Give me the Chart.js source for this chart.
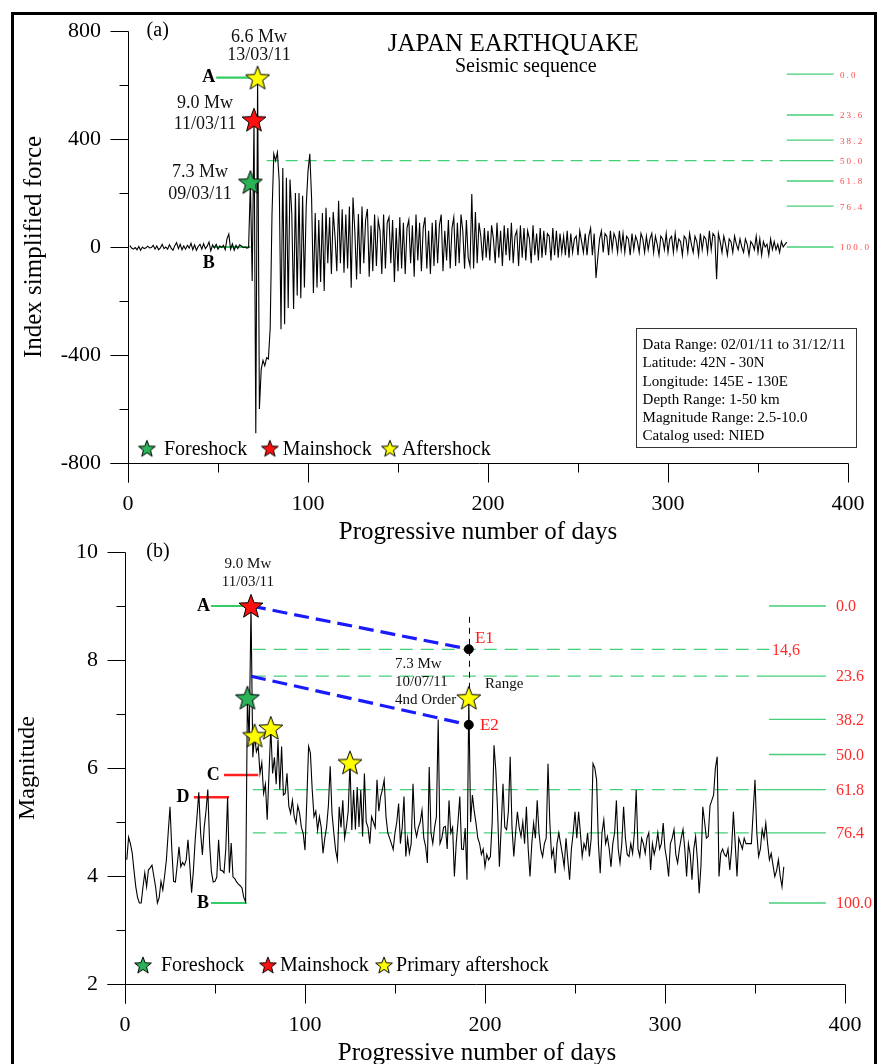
<!DOCTYPE html>
<html>
<head>
<meta charset="utf-8">
<script src="https://cdn.jsdelivr.net/npm/chart.js@4.4.1/dist/chart.umd.min.js"></script>
<style>
  body { margin: 0; background: #fff; }
  #page { position: relative; width: 880px; height: 1064px; overflow: hidden; background: #fff; }
  #frame { position: absolute; left: 11px; top: 12px; width: 860px; height: 1100px; border: 3px solid #000; }
  canvas { position: absolute; left: 0; }
  #forceChart { top: 0; }
  #magChart { top: 520px; }
</style>
</head>
<body>
<div id="page">
  <div id="frame"></div>
  <canvas id="forceChart" width="880" height="545"></canvas>
  <canvas id="magChart" width="880" height="544"></canvas>
</div>
<script>
// daily index of simplified force, 02/01/11 .. 31/12/11
const forceIndex = [
  5, -4, -8, -2, -10, 2, -12, 0, -6, -3,
  3, -3, -2, 6, -8, 4, -10, -3, 10, -6,
  0, -8, 8, -4, -12, 5, 16, -6, 10, -10,
  4, -8, 6, -4, 14, -10, 8, -12, 2, 10,
  -8, 12, -6, 3, 18, -14, 8, -4, 10, -8,
  4, -2, 6, -10, 30, 48, -8, 12, -12, 6,
  -6, 8, 4, -2, 0, -4, -2, 240, -126, 471,
  -690, 627, -600, -453, -420, -440, -410, -415, -300, 120,
  345, 320, 350, 245, -305, 293, -286, 256, -226, 250,
  122, -230, 200, -180, 200, -190, 190, -150, 150, 280,
  345, 180, -170, 126, -150, 100, -130, 126, -163, 145,
  -60, 110, -100, 130, 40, -90, 171, -60, 140, -95,
  120, -80, 150, -151, 183, 60, -120, 122, -100, 150,
  -60, 100, 141, -110, 80, -90, 120, -70, 100, 60,
  -100, 120, -80, 90, 110, -60, 100, -130, 70, -90,
  110, -80, 90, -100, 70, 100, -60, 80, -110, 120,
  -50, 90, -90, 70, 110, -80, 60, -100, 90, -70,
  100, -60, 80, 120, -90, 60, -50, 100, -80, 70,
  110, -70, 90, -60, 120, 60, -80, 100, -40, -70,
  196, -80, 130, -60, 90, 40, -50, 70, -40, 60,
  -50, 80, 30, -60, 90, -40, 60, -70, 80, -30,
  70, -50, 90, -60, 40, 60, -70, 80, -40, 70,
  -50, 60, 30, -60, 80, -30, 50, -50, 70, -40,
  60, -30, 50, 40, -50, 70, -30, 60, -40, 50,
  -20, 40, -30, 60, -40, 50, -20, 30, 40, -30,
  60, 20, -20, 50, -30, 40, 70, -30, 50, -115,
  -40, 30, 60, -20, 50, 40, -30, 60, -10, 50,
  30, -20, 60, -10, 50, -20, 40, 30, -30, 50,
  -10, 40, 20, -20, 50, 30, -20, 40, -10, 30,
  50, -20, 40, 10, -30, 40, 30, -10, 50, -20,
  30, 40, -20, 50, -10, 30, 20, -30, 40, 30,
  -20, 50, 10, -20, 40, 20, -30, 50, -10, 40,
  30, -20, 60, -10, 50, 40, -119, 50, 20, -20,
  40, 10, -30, 30, 20, -20, 40, 10, -10, 30,
  0, -20, 30, 10, -30, 20, 10, -10, 40, -20,
  30, -30, 20, 0, 10, -30, 30, -10, 20, -10,
  10, -20, 20, 0, 10, 18
];

// daily maximum magnitude (Mw)
const magnitude = [
  4.3, 4.72, 4.6, 4.43, 4.1, 3.8, 3.6, 3.5, 3.5, 3.8,
  4.06, 3.8, 4.11, 4.15, 4.2, 4.0, 3.8, 3.5, 3.6, 3.9,
  3.74, 4.0, 4.3, 4.8, 5.28, 4.5, 3.9, 3.89, 4.2, 4.54,
  4.17, 4.25, 4.2, 4.3, 4.67, 4.2, 3.69, 4.1, 4.67, 5.1,
  5.55, 4.8, 4.39, 4.9, 5.2, 5.6, 4.6, 4.08, 3.89, 3.9,
  3.98, 4.67, 4.11, 4.1, 4.06, 4.5, 5.46, 4.06, 4.61, 3.98,
  3.95, 3.89, 3.85, 3.82, 3.78, 3.6, 3.52, 7.3, 6.5, 9.0,
  6.2, 6.6, 6.3, 6.4, 5.9, 6.1, 5.53, 5.7, 5.04, 5.9,
  6.74, 5.9, 6.2, 5.7, 6.52, 5.6, 6.4, 5.5, 5.53, 5.9,
  5.3, 5.16, 5.4, 5.1, 4.98, 5.3, 5.16, 4.9, 4.79, 4.48,
  5.4, 6.4, 6.28, 5.6, 5.1, 5.2, 4.85, 5.1, 4.9, 4.42,
  4.7, 4.91, 5.3, 6.03, 5.16, 4.8, 4.48, 4.3, 5.28, 4.9,
  5.4, 4.7, 4.91, 5.2, 6.1, 4.85, 5.59, 4.86, 5.65, 4.91,
  5.59, 4.73, 5.9, 5.0, 4.9, 4.6, 5.1, 5.0, 4.9, 5.78,
  5.2, 5.47, 5.6, 5.78, 5.1, 4.8, 4.7, 4.6, 4.49, 4.8,
  5.0, 5.34, 4.6, 4.9, 5.47, 4.36, 4.7, 4.42, 4.6, 5.71,
  4.9, 4.73, 4.9, 5.0, 5.22, 4.7, 4.55, 4.24, 6.02, 4.8,
  4.6, 4.9, 5.1, 6.9, 4.6, 4.7, 4.9, 4.92, 4.5, 5.4,
  4.8, 4.9, 3.99, 4.6, 5.0, 5.47, 4.5, 4.49, 4.89, 3.93,
  7.3, 5.0, 5.5, 5.2, 4.98, 4.7, 4.6, 4.4, 4.5, 4.17,
  4.4, 4.3, 4.36, 5.0, 6.42, 5.96, 5.2, 4.17, 4.9, 5.71,
  4.9, 4.86, 5.2, 6.21, 4.9, 4.36, 4.8, 5.19, 4.9, 4.73,
  5.0, 4.6, 5.28, 4.5, 3.99, 4.6, 4.98, 4.7, 5.4, 4.8,
  4.49, 4.36, 4.6, 4.7, 6.08, 5.0, 4.36, 4.5, 4.05, 4.6,
  4.8, 4.6, 4.4, 4.17, 4.7, 4.3, 3.93, 4.5, 4.8, 5.19,
  4.7, 5.19, 4.8, 4.36, 4.6, 4.49, 4.8, 4.36, 4.7, 6.08,
  6.0, 5.78, 4.6, 4.05, 4.8, 5.04, 4.6, 4.73, 4.5, 4.17,
  4.6, 4.8, 5.4, 4.5, 4.24, 4.6, 5.28, 4.7, 4.4, 4.36,
  4.6, 4.42, 4.8, 5.59, 4.5, 4.36, 4.7, 4.6, 4.42, 4.7,
  4.8, 4.11, 4.6, 4.4, 4.55, 4.8, 4.5, 4.6, 4.98, 4.5,
  4.3, 3.99, 4.6, 4.7, 4.86, 4.4, 4.24, 4.5, 4.7, 4.86,
  4.5, 3.99, 4.6, 4.4, 3.93, 4.5, 4.73, 4.3, 3.68, 4.2,
  5.28, 5.0, 4.7, 4.73, 5.3, 5.4, 5.5, 6.0, 6.21, 3.99,
  4.42, 4.5, 4.4, 4.36, 4.5, 4.11, 4.5, 5.19, 4.6, 3.99,
  4.7, 4.6, 4.5, 4.7, 4.6, 4.6, 4.6, 4.6, 5.2, 5.78,
  4.8, 4.36, 4.5, 4.86, 4.7, 4.98, 4.6, 4.3, 4.42, 4.2,
  3.99, 4.1, 4.3, 4.0, 3.8, 4.17
];

const days = forceIndex.map((_, i) => i + 1);

// axis ticks
const dayTicks = [0, 100, 200, 300, 400];
const dayMinorTicks = [50, 150, 250, 350];
const forceTicks = [-800, -400, 0, 400, 800];
const forceMinorTicks = [-600, -200, 200, 600];
const magTicks = [2, 4, 6, 8, 10];
const magMinorTicks = [3, 5, 7, 9];

// events (day of year)
const foreshockDay = 68;      // 09/03/11, 7.3 Mw
const mainshockDay = 70;      // 11/03/11, 9.0 Mw
const aftershockDay = 72;     // 13/03/11, 6.6 Mw
const primaryAftershockDays = [72, 81, 125, 191];

// retracement levels (%)
const fibLevels = [0.0, 23.6, 38.2, 50.0, 61.8, 76.4, 100.0];
const forceLevelTop = 640, forceLevelBase = 0;
const magLevelTop = 9.0, magLevelBase = 3.5;
const magDashedLevels = [14.6, 23.6, 61.8, 76.4];
const levelC = 5.87, levelD = 5.46;

// 4th order range channel
const channelStartDay = 70, channelEndDay = 191;
const channelStart = [9.0, 7.7];
const channelEnd = [8.2, 6.8];

const infoLines = [
  'Data Range: 02/01/11 to 31/12/11',
  'Latitude: 42N - 30N',
  'Longitude: 145E - 130E',
  'Depth Range: 1-50 km',
  'Magnitude Range: 2.5-10.0',
  'Catalog used: NIED'
];

const SERIF = '"Liberation Serif", "Times New Roman", serif';
const GREEN = '#45cf78';
const STAR_GREEN = '#2bb457', STAR_RED = '#ff1010', STAR_YELLOW = '#ffff00';
Chart.defaults.font.family = SERIF;
Chart.defaults.color = '#000';

const starCache = {};
function starImage(fill, r) {
  const key = fill + r;
  if (starCache[key]) return starCache[key];
  const size = Math.ceil(2 * r + 4);
  const c = document.createElement('canvas');
  c.width = c.height = size;
  const g = c.getContext('2d');
  const cx = size / 2, cy = size / 2 + r * 0.08;
  g.beginPath();
  for (let i = 0; i < 10; i++) {
    const rr = i % 2 ? r * 0.42 : r;
    const a = -Math.PI / 2 + i * Math.PI / 5;
    g.lineTo(cx + rr * Math.cos(a), cy + rr * Math.sin(a));
  }
  g.closePath();
  g.fillStyle = fill;
  g.fill();
  g.lineWidth = 1;
  g.strokeStyle = '#000';
  g.stroke();
  return (starCache[key] = c);
}

function hline(ctx, x1, x2, y, color, width, dash) {
  ctx.save();
  ctx.beginPath();
  ctx.setLineDash(dash || []);
  ctx.strokeStyle = color;
  ctx.lineWidth = width;
  ctx.moveTo(x1, y);
  ctx.lineTo(x2, y);
  ctx.stroke();
  ctx.restore();
}

function text(ctx, str, x, y, font, color, align, spacing) {
  ctx.save();
  ctx.font = font;
  ctx.fillStyle = color || '#000';
  ctx.textAlign = align || 'left';
  ctx.textBaseline = 'middle';
  if (spacing) ctx.letterSpacing = spacing;
  ctx.fillText(str, x, y);
  ctx.restore();
}

// crossed axis lines at the lower-left corner, with major and minor ticks
function drawFrame(chart, yMajor, yMinor) {
  const { ctx, chartArea: a, scales: { x, y } } = chart;
  const px = v => Math.round(v) + 0.5;
  const left = px(a.left), bottom = px(a.bottom);
  ctx.save();
  ctx.strokeStyle = '#000';
  ctx.lineWidth = 1;
  ctx.beginPath();
  ctx.moveTo(left - 18, bottom); ctx.lineTo(px(a.right), bottom);
  ctx.moveTo(left, px(a.top)); ctx.lineTo(left, bottom + 19);
  yMajor.forEach(v => { const p = px(y.getPixelForValue(v)); ctx.moveTo(left - 18, p); ctx.lineTo(left, p); });
  yMinor.forEach(v => { const p = px(y.getPixelForValue(v)); ctx.moveTo(left - 9, p); ctx.lineTo(left, p); });
  dayTicks.forEach(v => { const p = px(x.getPixelForValue(v)); ctx.moveTo(p, bottom); ctx.lineTo(p, bottom + 19); });
  dayMinorTicks.forEach(v => { const p = px(x.getPixelForValue(v)); ctx.moveTo(p, bottom); ctx.lineTo(p, bottom + 9); });
  ctx.stroke();
  ctx.restore();
}

function legend(ctx, items, y) {
  items.forEach(it => {
    const img = starImage(it.color, 8.8);
    ctx.drawImage(img, it.x - img.width / 2, y - img.height / 2);
    text(ctx, it.label, it.x + it.gap, y + 1, '20px ' + SERIF);
  });
}

function starDataset(points, color, r) {
  return {
    type: 'scatter',
    data: points,
    pointStyle: starImage(color, r),
    pointRadius: 8,
    order: 0
  };
}

// fixed-size axes so the plot area sits exactly where the layout padding puts it
function axisScales(yMin, yMax, yStep, yWidth, xHeight) {
  return {
    x: {
      type: 'linear', min: 0, max: 400,
      afterFit: s => { s.height = xHeight; s.paddingLeft = 0; s.paddingRight = 0; },
      grid: { display: false, drawTicks: false },
      border: { display: false },
      ticks: { stepSize: 100, padding: 28, autoSkip: false, maxRotation: 0, font: { size: 22 } }
    },
    y: {
      min: yMin, max: yMax,
      afterFit: s => { s.width = yWidth; s.paddingTop = 0; s.paddingBottom = 0; },
      grid: { display: false, drawTicks: false },
      border: { display: false },
      ticks: { stepSize: yStep, padding: 27, autoSkip: false, font: { size: 22 } }
    }
  };
}

// ---------- (a) index of simplified force ----------
const forceDecor = {
  id: 'forceDecor',
  beforeDatasetsDraw(chart) {
    const { ctx, scales: { x, y } } = chart;
    drawFrame(chart, forceTicks, forceMinorTicks);
    const lvl = p => y.getPixelForValue(forceLevelTop - (forceLevelTop - forceLevelBase) * p / 100);
    hline(ctx, x.getPixelForValue(77), x.getPixelForValue(366), lvl(50), GREEN, 1.3, [12, 7]);
    fibLevels.forEach(p => {
      hline(ctx, x.getPixelForValue(366), x.getPixelForValue(392), lvl(p), GREEN, 1.3);
      text(ctx, p.toFixed(1), x.getPixelForValue(395.5), lvl(p) + 1, '9px ' + SERIF, '#ff4a4a', 'left', '2.2px');
    });
    const aVal = forceIndex[aftershockDay - 1];
    hline(ctx, x.getPixelForValue(49), x.getPixelForValue(70), y.getPixelForValue(aVal), '#33cc66', 2.2);
    hline(ctx, x.getPixelForValue(47), x.getPixelForValue(68), y.getPixelForValue(0), '#33cc66', 2.2);
  },
  afterDatasetsDraw(chart) {
    const { ctx, chartArea: a, scales: { x, y } } = chart;
    const X = v => x.getPixelForValue(v), Y = v => y.getPixelForValue(v);
    const f18 = '18px ' + SERIF;
    text(ctx, '(a)', X(16.5), Y(800), '20px ' + SERIF, '#000', 'center');
    text(ctx, 'JAPAN EARTHQUAKE', X(214), Y(750), '25px ' + SERIF, '#000', 'center');
    text(ctx, 'Seismic sequence', X(221), Y(668), '20px ' + SERIF, '#000', 'center');
    text(ctx, '6.6 Mw', X(72.8), Y(776), f18, '#111', 'center');
    text(ctx, '13/03/11', X(72.8), Y(710), f18, '#111', 'center');
    text(ctx, '9.0 Mw', X(42.8), Y(531), f18, '#111', 'center');
    text(ctx, '11/03/11', X(42.8), Y(453), f18, '#111', 'center');
    text(ctx, '7.3 Mw', X(40), Y(275), f18, '#111', 'center');
    text(ctx, '09/03/11', X(40), Y(197), f18, '#111', 'center');
    text(ctx, 'A', X(48.5), Y(forceIndex[aftershockDay - 1]), 'bold 18px ' + SERIF, '#000', 'right');
    text(ctx, 'B', X(44.8), Y(-60), 'bold 18px ' + SERIF, '#000', 'center');

    // catalogue box
    const bx = X(282), by = Y(-300), bw = X(404) - bx, bh = Y(-742) - by;
    ctx.save();
    ctx.fillStyle = '#fff';
    ctx.fillRect(bx, by, bw, bh);
    ctx.strokeStyle = '#333';
    ctx.lineWidth = 1;
    ctx.strokeRect(Math.round(bx) + 0.5, Math.round(by) + 0.5, Math.round(bw), Math.round(bh));
    ctx.restore();
    infoLines.forEach((s, i) => text(ctx, s, bx + 7, by + 17 + i * 18.3, '15px ' + SERIF));

    legend(ctx, [
      { x: X(10.5), gap: 17, color: STAR_GREEN, label: 'Foreshock' },
      { x: X(78.8), gap: 13, color: STAR_RED, label: 'Mainshock' },
      { x: X(145.5), gap: 12, color: STAR_YELLOW, label: 'Aftershock' }
    ], Y(-746));

    text(ctx, 'Progressive number of days', (a.left + a.right) / 2 - 10, a.bottom + 69, '25px ' + SERIF, '#000', 'center');
    ctx.save();
    ctx.translate(a.left - 94, Y(0));
    ctx.rotate(-Math.PI / 2);
    text(ctx, 'Index simplified force', 0, 0, '25px ' + SERIF, '#000', 'center');
    ctx.restore();
  }
};

new Chart(document.getElementById('forceChart'), {
  type: 'line',
  data: {
    datasets: [
      starDataset([{ x: foreshockDay, y: forceIndex[foreshockDay - 1] }], STAR_GREEN, 12.6),
      starDataset([{ x: mainshockDay, y: forceIndex[mainshockDay - 1] }], STAR_RED, 12.6),
      starDataset([{ x: aftershockDay, y: forceIndex[aftershockDay - 1] }], STAR_YELLOW, 12.6),
      {
        data: days.map((d, i) => ({ x: d, y: forceIndex[i] })),
        borderColor: '#000', borderWidth: 1.1, pointRadius: 0, tension: 0, order: 1
      }
    ]
  },
  options: {
    responsive: false,
    animation: false,
    layout: { padding: { top: 31, right: 32, left: 0, bottom: 0 } },
    plugins: { legend: { display: false }, tooltip: { enabled: false } },
    scales: axisScales(-800, 800, 400, 128, 82)
  },
  plugins: [forceDecor]
});

// ---------- (b) magnitude ----------
const magDecor = {
  id: 'magDecor',
  beforeDatasetsDraw(chart) {
    const { ctx, scales: { x, y } } = chart;
    const X = v => x.getPixelForValue(v), Y = v => y.getPixelForValue(v);
    drawFrame(chart, magTicks, magMinorTicks);
    const lvl = p => Y(magLevelTop - (magLevelTop - magLevelBase) * p / 100);
    magDashedLevels.forEach(p => hline(ctx, X(71), X(358), lvl(p), GREEN, 1.3, [13, 8]));
    fibLevels.forEach(p => {
      hline(ctx, X(357.8), X(389.4), lvl(p), GREEN, 1.3);
      text(ctx, p.toFixed(1), X(395), lvl(p) + 1, '16px ' + SERIF, '#ff2a2a');
    });
    text(ctx, '14,6', X(359.5), lvl(14.6) + 1, '16px ' + SERIF, '#ff2a2a');
    hline(ctx, X(47.8), X(67.5), Y(magLevelTop), '#33cc66', 2.2);
    hline(ctx, X(47.8), X(67.5), Y(magLevelBase), '#33cc66', 2.2);
    hline(ctx, X(55), X(74), Y(levelC), '#ff2020', 2.5);
    hline(ctx, X(38.3), X(57.8), Y(levelD), '#ff2020', 2.5);
    // range marker through the 10/07/11 event
    ctx.save();
    ctx.beginPath();
    ctx.setLineDash([6, 5]);
    ctx.strokeStyle = '#000';
    ctx.lineWidth = 1;
    ctx.moveTo(Math.round(X(channelEndDay)) + 0.5, Y(8.8));
    ctx.lineTo(Math.round(X(channelEndDay)) + 0.5, Y(magnitude[channelEndDay - 1]));
    ctx.stroke();
    ctx.restore();
  },
  afterDatasetsDraw(chart) {
    const { ctx, chartArea: a, scales: { x, y } } = chart;
    const X = v => x.getPixelForValue(v), Y = v => y.getPixelForValue(v);
    const bold = 'bold 18px ' + SERIF;
    text(ctx, '(b)', X(18.3), Y(10), '20px ' + SERIF, '#000', 'center');
    text(ctx, '9.0 Mw', X(68.3), Y(9.78), '15px ' + SERIF, '#111', 'center');
    text(ctx, '11/03/11', X(68.3), Y(9.44), '15px ' + SERIF, '#111', 'center');
    text(ctx, 'A', X(47.2), Y(magLevelTop), bold, '#000', 'right');
    text(ctx, 'B', X(46.7), Y(magLevelBase), bold, '#000', 'right');
    text(ctx, 'C', X(52.6), Y(levelC), bold, '#000', 'right');
    text(ctx, 'D', X(35.8), Y(levelD), bold, '#000', 'right');
    const f15 = '15px ' + SERIF;
    text(ctx, '7.3 Mw', X(150), Y(7.93), f15, '#111');
    text(ctx, '10/07/11', X(150), Y(7.59), f15, '#111');
    text(ctx, '4nd Order', X(150), Y(7.26), f15, '#111');
    text(ctx, 'Range', X(200), Y(7.56), f15, '#111');
    text(ctx, 'E1', X(194.4), Y(8.39), '17px ' + SERIF, '#ff1a1a');
    text(ctx, 'E2', X(197.2), Y(6.78), '17px ' + SERIF, '#ff1a1a');

    legend(ctx, [
      { x: X(10), gap: 18, color: STAR_GREEN, label: 'Foreshock' },
      { x: X(79.4), gap: 12, color: STAR_RED, label: 'Mainshock' },
      { x: X(143.9), gap: 12, color: STAR_YELLOW, label: 'Primary aftershock' }
    ], Y(2.35));

    text(ctx, 'Progressive number of days', (a.left + a.right) / 2 - 8, a.bottom + 69, '25px ' + SERIF, '#000', 'center');
    ctx.save();
    ctx.translate(a.left - 97, Y(6));
    ctx.rotate(-Math.PI / 2);
    text(ctx, 'Magnitude', 0, 0, '24px ' + SERIF, '#000', 'center');
    ctx.restore();
  }
};

new Chart(document.getElementById('magChart'), {
  type: 'line',
  data: {
    datasets: [
      starDataset([{ x: mainshockDay, y: magnitude[mainshockDay - 1] }], STAR_RED, 12.6),
      starDataset(primaryAftershockDays.map(d => ({ x: d, y: magnitude[d - 1] })), STAR_YELLOW, 12.6),
      starDataset([{ x: foreshockDay, y: magnitude[foreshockDay - 1] }], STAR_GREEN, 12.6),
      {
        type: 'scatter',
        data: channelEnd.map(v => ({ x: channelEndDay, y: v })),
        pointRadius: 4.5, backgroundColor: '#000', borderColor: '#000', order: 0
      },
      {
        data: [{ x: channelStartDay, y: channelStart[0] }, { x: channelEndDay, y: channelEnd[0] }],
        borderColor: '#1a1aff', borderWidth: 3.2, borderDash: [15, 7], pointRadius: 0, order: 1
      },
      {
        data: [{ x: channelStartDay, y: channelStart[1] }, { x: channelEndDay, y: channelEnd[1] }],
        borderColor: '#1a1aff', borderWidth: 3.2, borderDash: [15, 7], pointRadius: 0, order: 1
      },
      {
        data: days.map((d, i) => ({ x: d, y: magnitude[i] })),
        borderColor: '#000', borderWidth: 1.1, pointRadius: 0, tension: 0, order: 2
      }
    ]
  },
  options: {
    responsive: false,
    animation: false,
    layout: { padding: { top: 32, right: 35, left: 0, bottom: 0 } },
    plugins: { legend: { display: false }, tooltip: { enabled: false } },
    scales: axisScales(2, 10, 2, 125, 80)
  },
  plugins: [magDecor]
});
</script>
</body>
</html>
